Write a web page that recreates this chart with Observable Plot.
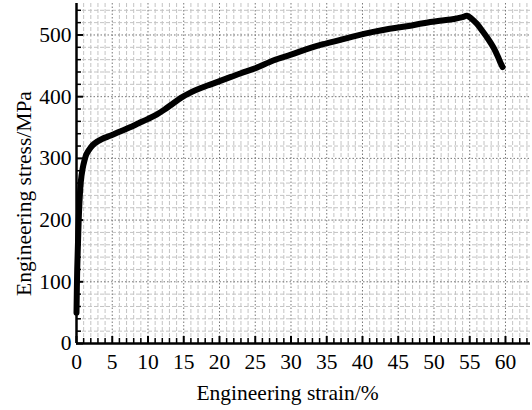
<!DOCTYPE html>
<html>
<head>
<meta charset="utf-8">
<script src="https://cdn.jsdelivr.net/npm/d3@7"></script>
<script src="https://cdn.jsdelivr.net/npm/@observablehq/plot@0.6"></script>
<style>
  html, body { margin: 0; padding: 0; background: #fff; }
  #chart svg { display: block; }
</style>
</head>
<body>
<div id="chart"></div>
<script>
// Data
const strain = [0, 0.1, 0.25, 0.4, 0.6, 0.85, 1.1, 1.4, 2, 2.5, 3.5, 4.8, 6, 7.4, 8.7, 10, 11.2, 12.3, 13.5, 14.6, 16, 17.4, 18.8, 20.2, 21.6, 23, 25, 27.6, 30, 32.2, 34.5, 36.9, 39.2, 41.5, 43.8, 46.2, 48.5, 50.8, 52.8, 54, 54.6, 55.2, 56, 56.8, 57.6, 58.3, 58.9, 59.3, 59.6];
const stress = [50, 120, 180, 225, 262, 283, 296, 307, 318, 324, 331, 337, 343, 350, 357, 364, 371, 379, 389, 398, 407, 414, 420, 426, 432, 438, 446, 459, 468, 477, 485, 492, 499, 505, 510, 514, 519, 523, 526, 529, 531, 527, 518, 506, 493, 480, 466, 455, 448];

const xMajor = [0, 5, 10, 15, 20, 25, 30, 35, 40, 45, 50, 55, 60];
const xMinor = d3.range(0, 64, 1).filter(v => v % 5 !== 0);
const yMajor = [0, 100, 200, 300, 400, 500];
const yMinor = d3.range(0, 551, 20).filter(v => v % 100 !== 0);

const xTitle = "Engineering strain/%";
const yTitle = "Engineering stress/MPa";

const data = strain.map((s, i) => ({strain: s, stress: stress[i]}));

const W = 532, H = 410;
const mL = 76, mR = 2, mT = 3, mB = 67;
const innerW = W - mL - mR, innerH = H - mT - mB;

const chart = Plot.plot({
  width: W,
  height: H,
  marginLeft: mL,
  marginRight: mR,
  marginTop: mT,
  marginBottom: mB,
  style: {fontFamily: "'Liberation Serif', 'Times New Roman', serif", fontSize: "21px", background: "#fff", color: "#000"},
  x: {domain: [0, 63.5]},
  y: {domain: [0, 551]},
  marks: [
    // minor grid
    Plot.ruleX(xMinor, {stroke: "#c4c4c4", strokeWidth: 1, strokeDasharray: "4,2"}),
    Plot.ruleY(yMinor, {stroke: "#c4c4c4", strokeWidth: 1, strokeDasharray: "4,2"}),
    // major grid
    Plot.ruleX(xMajor.filter(v => v > 0), {stroke: "#777", strokeWidth: 1, strokeDasharray: "1.5,2"}),
    Plot.ruleY(yMajor.filter(v => v > 0), {stroke: "#777", strokeWidth: 1, strokeDasharray: "1.5,2"}),
    // curve
    Plot.line(data, {x: "strain", y: "stress", stroke: "#000", strokeWidth: 6, curve: "catmull-rom", strokeLinejoin: "round", strokeLinecap: "round"}),
    // inward ticks
    Plot.tickX(xMajor, {x: d => d, stroke: "#000", strokeWidth: 2, insetTop: innerH - 7}),
    Plot.tickX(xMinor, {x: d => d, stroke: "#000", strokeWidth: 1.5, insetTop: innerH - 5}),
    Plot.tickY(yMajor, {y: d => d, stroke: "#000", strokeWidth: 2, insetRight: innerW - 7}),
    Plot.tickY(yMinor, {y: d => d, stroke: "#000", strokeWidth: 1.5, insetRight: innerW - 5}),
    // axis lines
    Plot.ruleX([0], {stroke: "#000", strokeWidth: 2.5}),
    Plot.ruleY([0], {stroke: "#000", strokeWidth: 2.5}),
    // tick labels
    Plot.axisX({ticks: xMajor, tickSize: 0, tickPadding: 10, label: null, fontSize: 21.5}),
    Plot.axisY({ticks: yMajor, tickSize: 0, tickPadding: 5, label: null, fontSize: 21.5}),
    // axis titles
    Plot.text([xTitle], {text: d => d, frameAnchor: "bottom", textAnchor: "middle", dx: -16, dy: 56, fontSize: 21.5, fill: "#000"}),
    Plot.text([yTitle], {text: d => d, frameAnchor: "left", textAnchor: "middle", rotate: -90, dx: -52, dy: 20, fontSize: 21.5, fill: "#000"})
  ]
});

document.getElementById("chart").appendChild(chart);
</script>
</body>
</html>
